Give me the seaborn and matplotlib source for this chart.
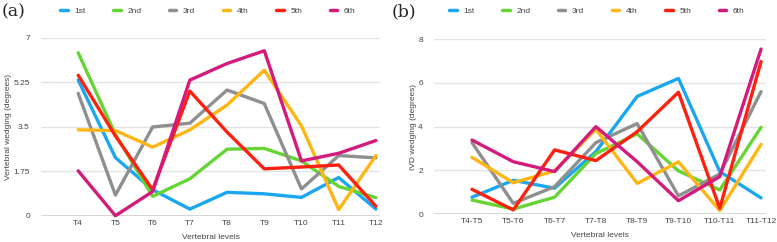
import matplotlib.pyplot as plt
import seaborn as sns
import pandas as pd

# values
levels_a = ['T4', 'T5', 'T6', 'T7', 'T8', 'T9', 'T10', 'T11', 'T12']
levels_b = ['T4-T5', 'T5-T6', 'T6-T7', 'T7-T8', 'T8-T9', 'T9-T10', 'T10-T11', 'T11-T12']
series = ['1st', '2nd', '3rd', '4th', '5th', '6th']

wedge_1st = [5.33, 2.29, 1.03, 0.27, 0.93, 0.87, 0.73, 1.51, 0.27]
wedge_2nd = [6.40, 3.20, 0.77, 1.46, 2.62, 2.65, 2.16, 1.16, 0.72]
wedge_3rd = [4.81, 0.82, 3.49, 3.64, 4.94, 4.41, 1.06, 2.37, 2.28]
wedge_4th = [3.38, 3.35, 2.70, 3.38, 4.35, 5.72, 3.53, 0.25, 2.37]
wedge_5th = [5.52, 3.14, 1.03, 4.90, 3.29, 1.85, 1.92, 2.00, 0.38]
wedge_6th = [1.77, 0.01, 0.96, 5.33, 5.98, 6.48, 2.16, 2.46, 2.96]

ivd_1st = [0.78, 1.55, 1.19, 2.86, 5.38, 6.20, 1.95, 0.75]
ivd_2nd = [0.65, 0.24, 0.78, 2.77, 3.67, 1.98, 1.11, 3.97]
ivd_3rd = [3.27, 0.50, 1.26, 3.27, 4.14, 0.84, 1.84, 5.60]
ivd_4th = [2.60, 1.44, 1.98, 3.88, 1.41, 2.39, 0.17, 3.19]
ivd_5th = [1.14, 0.20, 2.94, 2.45, 3.77, 5.57, 0.27, 6.97]
ivd_6th = [3.39, 2.40, 1.95, 4.00, 2.40, 0.62, 1.72, 7.54]

colors = ['#1aa7f0', '#66d435', '#8f8f8f', '#ffb612', '#ff2010', '#d41a7c']
pal = dict(zip(series, colors))

def long_df(levels, cols):
    rows = []
    for s, vals in zip(series, cols):
        for lv, v in zip(levels, vals):
            rows.append({'level': lv, 'val': v, 'series': s})
    return pd.DataFrame(rows)

df_a = long_df(levels_a, [wedge_1st, wedge_2nd, wedge_3rd, wedge_4th, wedge_5th, wedge_6th])
df_b = long_df(levels_b, [ivd_1st, ivd_2nd, ivd_3rd, ivd_4th, ivd_5th, ivd_6th])

sns.set_theme(style="white")
plt.rcParams['font.family'] = ['Liberation Sans', 'DejaVu Sans']
txt = '#444444'

fig = plt.figure(figsize=(7.77, 2.42), dpi=100)
ax1 = fig.add_axes([41/777, 26/242, 339/777, 178.5/242])
ax2 = fig.add_axes([434/777, 27.7/242, 332/777, 175.3/242])

def style(ax, yticks, yticklabels, ylabel, xlim, ylim):
    ax.set_xlim(*xlim)
    ax.set_ylim(*ylim)
    ax.set_yticks(yticks)
    ax.set_yticklabels(yticklabels)
    for t in yticks[1:]:
        ax.axhline(t, color='#e3e3e3', lw=1, zorder=0)
    ax.axhline(0, color='#333333', lw=1, zorder=1)
    for sp in ax.spines.values():
        sp.set_visible(False)
    ax.tick_params(axis='both', length=0, labelsize=6, colors=txt, pad=3)
    ax.tick_params(axis='y', pad=8)
    ax.set_xlabel('Vertebral levels', fontsize=6, color=txt, labelpad=5)
    ax.set_ylabel(ylabel, fontsize=6, color=txt, labelpad=1)

sns.lineplot(data=df_a, x='level', y='val', hue='series', palette=pal, lw=2.4,
             sort=False, ax=ax1, legend=False, clip_on=False)
sns.lineplot(data=df_b, x='level', y='val', hue='series', palette=pal, lw=2.4,
             sort=False, ax=ax2, legend=False, clip_on=False)

style(ax1, [0, 1.75, 3.5, 5.25, 7], ['0', '1.75', '3.5', '5.25', '7'],
      'Vertebral wedging (degrees)', (-1.0, 8.11), (0, 7))
style(ax2, [0, 2, 4, 6, 8], ['0', '2', '4', '6', '8'],
      'IVD wedging (degrees)', (-0.92, 7.12), (0, 8))

handles = [plt.Line2D([], [], color=c, lw=2.5) for c in colors]
for ax, cx in [(ax1, 208), (ax2, 597)]:
    fig.legend(handles, series, loc='center', bbox_to_anchor=(cx/777, 1 - 11/242),
               ncol=6, frameon=False, fontsize=6, handlelength=0.9,
               handletextpad=0.8, columnspacing=3.3, labelcolor=txt)

fig.text(2/777, 1 - 12/242, '(a)', fontsize=12.5, family='DejaVu Serif', va='center')
fig.text(392/777, 1 - 12/242, '(b)', fontsize=12.5, family='DejaVu Serif', va='center')

fig.savefig('out.png', dpi=100)
